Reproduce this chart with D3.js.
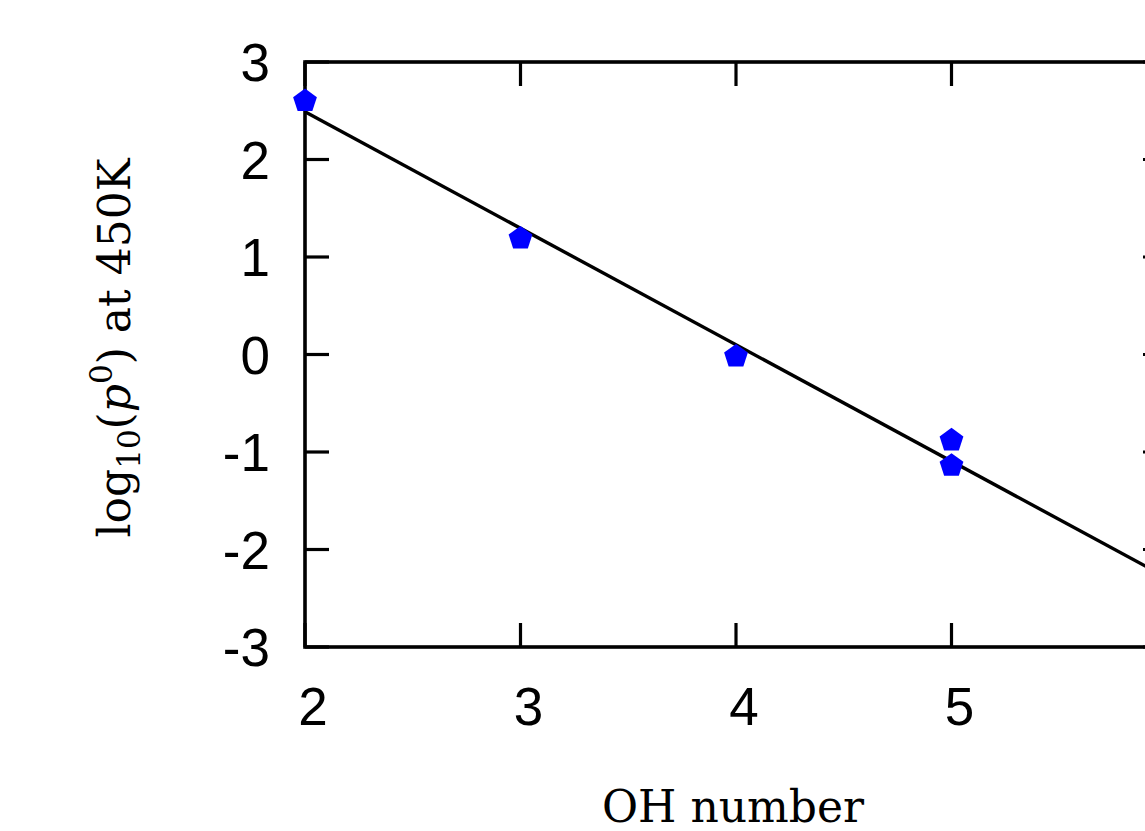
<!DOCTYPE html>
<html>
<head>
<meta charset="utf-8">
<script src="https://cdn.jsdelivr.net/npm/d3@7"></script>
<style>
  body { margin: 0; background: #fff; overflow: hidden; }
</style>
</head>
<body>
<div id="chart"></div>
<script>
// OH number vs log10 vapour pressure
const ohNumber = [2, 3, 4, 5, 5];
const logP = [2.6, 1.19, -0.02, -0.88, -1.14];
// linear fit, end points
const fitX = [2, 6];
const fitY = [2.49, -2.29];
const xTicks = [2, 3, 4, 5, 6];
const xTickLabels = ["2", "3", "4", "5", ""];
const yTicks = [-3, -2, -1, 0, 1, 2, 3];

const width = 1145;
const height = 831;
const margin = { left: 305, top: 62 };
const plotW = 862;
const plotH = 585;
const tickLen = 24;

const svg = d3.select("#chart")
    .append("svg")
    .attr("width", width)
    .attr("height", height);

const x = d3.scaleLinear().domain([2, 6]).range([margin.left, margin.left + plotW]);
const y = d3.scaleLinear().domain([-3, 3]).range([margin.top + plotH, margin.top]);

// Inward ticks on all four sides
const ticks = svg.append("g").attr("stroke", "black").attr("stroke-width", 3.2);
xTicks.forEach(t => {
    ticks.append("line").attr("x1", x(t)).attr("x2", x(t))
        .attr("y1", y(-3)).attr("y2", y(-3) - tickLen);
    ticks.append("line").attr("x1", x(t)).attr("x2", x(t))
        .attr("y1", y(3)).attr("y2", y(3) + tickLen);
});
yTicks.forEach(t => {
    ticks.append("line").attr("x1", x(2)).attr("x2", x(2) + tickLen)
        .attr("y1", y(t)).attr("y2", y(t));
    ticks.append("line").attr("x1", x(6)).attr("x2", x(6) - tickLen)
        .attr("y1", y(t)).attr("y2", y(t));
});

// frame
svg.append("rect")
    .attr("x", x(2)).attr("y", y(3))
    .attr("width", plotW).attr("height", plotH)
    .style("fill", "none")
    .style("stroke", "black")
    .style("stroke-width", 3.6);

// tick labels
svg.append("g").selectAll("text")
    .data(yTicks)
    .enter()
    .append("text")
    .attr("x", 270)
    .attr("y", d => y(d))
    .attr("dy", "0.36em")
    .style("text-anchor", "end")
    .style("font-family", "'Liberation Sans', Arial, sans-serif")
    .style("font-size", "53px")
    .text(d => d);

svg.append("g").selectAll("text")
    .data(xTicks.filter((d, i) => xTickLabels[i] !== ""))
    .enter()
    .append("text")
    .attr("x", d => x(d) + 8)
    .attr("y", 725)
    .style("text-anchor", "middle")
    .style("font-family", "'Liberation Sans', Arial, sans-serif")
    .style("font-size", "53px")
    .text((d, i) => xTickLabels[i]);

// fit line
const line = d3.line().x(d => x(d[0])).y(d => y(d[1]));
svg.append("path")
    .datum(fitX.map((v, i) => [v, fitY[i]]))
    .attr("d", line)
    .style("fill", "none")
    .style("stroke", "black")
    .style("stroke-width", 3.4);

// pentagon markers
const r = 12.5;
const pentagon = d3.range(5).map(i => {
    const a = -Math.PI / 2 + i * 2 * Math.PI / 5;
    return [r * Math.cos(a), r * Math.sin(a)];
});
svg.append("g").selectAll("path")
    .data(ohNumber.map((v, i) => [v, logP[i]]))
    .enter()
    .append("path")
    .attr("d", "M" + pentagon.join("L") + "Z")
    .attr("transform", d => `translate(${x(d[0])},${y(d[1])})`)
    .style("fill", "#0000ff");

// axis titles
const yTitle = svg.append("text")
    .attr("transform", "translate(130,348) rotate(-90)")
    .style("text-anchor", "middle")
    .style("font-family", "'DejaVu Serif', 'Liberation Serif', serif")
    .style("font-size", "44px")
    .style("font-weight", "300");
yTitle.append("tspan").text("log");
yTitle.append("tspan").attr("dy", 10).style("font-size", "31px").text("10");
yTitle.append("tspan").attr("dy", -10).text("(");
yTitle.append("tspan").style("font-style", "italic").text("p");
yTitle.append("tspan").attr("dy", -18).style("font-size", "31px").text("0");
yTitle.append("tspan").attr("dy", 18).text(")  at  450K");

svg.append("text")
    .attr("x", 733)
    .attr("y", 822)
    .style("text-anchor", "middle")
    .style("font-family", "'DejaVu Serif', 'Liberation Serif', serif")
    .style("font-size", "44px")
    .style("font-weight", "300")
    .text("OH number");
</script>
</body>
</html>
